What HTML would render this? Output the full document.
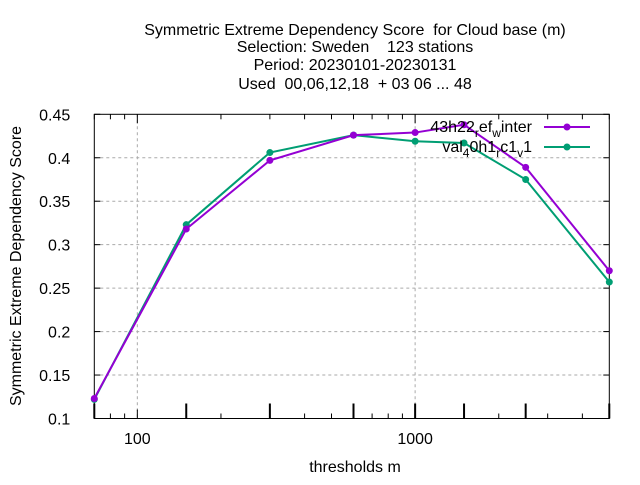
<!DOCTYPE html>
<html><head><meta charset="utf-8"><style>
body{margin:0;background:#fff;}
text{font-family:"Liberation Sans",sans-serif;font-size:16px;fill:#000;}
</style></head><body>
<svg id="c" width="640" height="480">
<g>
<text x="355" y="35" text-anchor="middle" xml:space="preserve">Symmetric Extreme Dependency Score  for Cloud base (m)</text>
<text x="355" y="52" text-anchor="middle" xml:space="preserve">Selection: Sweden    123 stations</text>
<text x="355" y="70" text-anchor="middle">Period: 20230101-20230131</text>
<text x="355" y="89" text-anchor="middle" xml:space="preserve">Used  00,06,12,18  + 03 06 ... 48</text>
</g>
<text transform="translate(21,266) rotate(-90)" text-anchor="middle">Symmetric Extreme Dependency Score</text>
<text x="355" y="472" text-anchor="middle">thresholds m</text>
<g id="grid"></g><g id="axes"></g><g id="series"></g>
<g>
<text x="532" y="132" text-anchor="end">43h22<tspan font-size="12" dy="5">r</tspan><tspan dy="-5">ef</tspan><tspan font-size="12" dy="5">w</tspan><tspan dy="-5">inter</tspan></text>
<text x="532" y="152" text-anchor="end">val<tspan font-size="12" dy="5">4</tspan><tspan dy="-5">0h1</tspan><tspan font-size="12" dy="5">r</tspan><tspan dy="-5">c1</tspan><tspan font-size="12" dy="5">v</tspan><tspan dy="-5">1</tspan></text>
</g>
</svg>
<script>
const thresholds=[70,150,300,600,1000,1500,2500,5000];
const series1=[0.123,0.318,0.397,0.426,0.429,0.438,0.389,0.270];
const series2=[0.122,0.323,0.406,0.426,0.419,0.417,0.375,0.257];
const yTicks=[0.1,0.15,0.2,0.25,0.3,0.35,0.4,0.45];
const xLabels=[100,1000];
const seriesNames=["43h22_ref_winter","val_40h1_rc1_v1"];
const L=94.3,R=609.3,T=114.3,B=418.5;
const xmin=70,xmax=5000,ymin=0.1,ymax=0.45;
const NS="http://www.w3.org/2000/svg";
function X(v){return L+(Math.log10(v)-Math.log10(xmin))/(Math.log10(xmax)-Math.log10(xmin))*(R-L);}
function Y(v){return B-(v-ymin)/(ymax-ymin)*(B-T);}
function mk(p,tag,a){const e=document.createElementNS(NS,tag);for(const k in a)e.setAttribute(k,a[k]);p.appendChild(e);return e;}
const grid=document.getElementById('grid'),axes=document.getElementById('axes'),ser=document.getElementById('series');
yTicks.forEach(t=>{const y=Y(t);
 if(t>ymin&&t<ymax){const g=mk(grid,'line',{x1:L,x2:R,y1:y,y2:y,stroke:'#aaa','stroke-dasharray':'3,3'});
 
 }
 mk(axes,'line',{x1:L,x2:L+6,y1:y,y2:y,stroke:'#000'});mk(axes,'line',{x1:R,x2:R-6,y1:y,y2:y,stroke:'#000'});
 const tx=mk(axes,'text',{x:L-24,y:y+6,'text-anchor':'end'});tx.textContent=String(t);
 
 });
xLabels.forEach(t=>{const x=X(t);
 const g=mk(grid,'line',{x1:x,x2:x,y1:T,y2:B,stroke:'#aaa','stroke-dasharray':'3,3'});
 
 
 const tx=mk(axes,'text',{x:x,y:444,'text-anchor':'middle'});tx.textContent=String(t);
 
 });
for(let d=10;d<=1000;d*=10)for(let m=1;m<10;m++){const v=d*m;if(v<xmin||v>xmax)continue;const x=X(v);const len=(m==1)?9:5;
 mk(axes,'line',{x1:x,x2:x,y1:B,y2:B-len,stroke:'#000'});mk(axes,'line',{x1:x,x2:x,y1:T,y2:T+len,stroke:'#000'});}
thresholds.forEach(t=>{const x=X(t);mk(axes,'line',{x1:x,x2:x,y1:B,y2:B-15,stroke:'#000','stroke-width':2});});
mk(axes,'rect',{x:L,y:T,width:R-L,height:B-T,fill:'none',stroke:'#000'});
function draw(vals,color,name,ly){
 const g=mk(ser,'g',{});
 
 
 mk(g,'polyline',{points:vals.map((v,i)=>X(thresholds[i])+','+Y(v)).join(' '),fill:'none',stroke:color,'stroke-width':2});
 vals.forEach((v,i)=>{const c=mk(g,'circle',{cx:X(thresholds[i]),cy:Y(v),r:3.5,fill:color});
  
  });
 mk(g,'line',{x1:544,x2:590,y1:ly,y2:ly,stroke:color,'stroke-width':2});
 mk(g,'circle',{cx:567,cy:ly,r:3.5,fill:color});
}
draw(series2,'#009e73','series-val40h1',147);
draw(series1,'#9400d3','series-43h22',127);
</script>
</body></html>
